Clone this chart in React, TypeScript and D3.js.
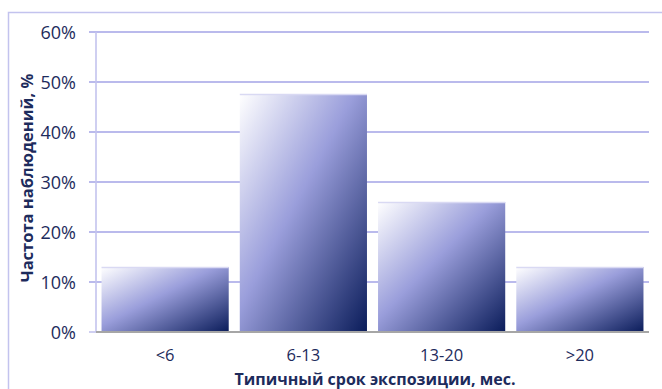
import * as d3 from 'd3';
import { useEffect, useRef } from 'react';

const categories = ['<6', '6-13', '13-20', '>20'];
const shares = [0.13, 0.476, 0.26, 0.13];
const yTicks = [0, 0.1, 0.2, 0.3, 0.4, 0.5, 0.6];

const xTitle = 'Типичный срок экспозиции, мес.';
const yTitle = 'Частота наблюдений, %';

const dims = {
  width: 662,
  height: 389,
  left: 96,
  right: 649,
  top: 32,
  bottom: 332,
};

const textColor = '#1d2b5c';
const font = '"Open Sans", "Noto Sans", sans-serif';

export default function App() {
  const svgRef = useRef(null);

  useEffect(() => {
    const svg = d3.select(svgRef.current);
    svg.selectAll('*').remove();

    const xScale = d3
      .scaleBand()
      .domain(categories)
      .range([dims.left, dims.right])
      .paddingInner(0.08)
      .paddingOuter(0.04);

    const yScale = d3
      .scaleLinear()
      .domain([0, 0.6])
      .range([dims.bottom, dims.top]);

    // gradient for bars
    const grad = svg
      .append('defs')
      .append('linearGradient')
      .attr('id', 'barGrad')
      .attr('x1', 0)
      .attr('y1', 0)
      .attr('x2', 1)
      .attr('y2', 1);
    grad.append('stop').attr('offset', '0%').attr('stop-color', '#ffffff');
    grad.append('stop').attr('offset', '45%').attr('stop-color', '#9a9edb');
    grad.append('stop').attr('offset', '100%').attr('stop-color', '#0a1c5a');

    // outer frame
    svg
      .append('rect')
      .attr('x', 8.5)
      .attr('y', 12.5)
      .attr('width', 700)
      .attr('height', 400)
      .style('fill', 'none')
      .style('stroke', '#c3c3ee')
      .style('stroke-width', 1.5);

    // grid lines + tick marks
    svg
      .append('g')
      .selectAll('line')
      .data(yTicks.slice(1))
      .enter()
      .append('line')
      .attr('x1', 89)
      .attr('x2', dims.right)
      .attr('y1', (d) => yScale(d))
      .attr('y2', (d) => yScale(d))
      .style('stroke', '#a3a3e6')
      .style('stroke-width', 1.6);

    // zero tick
    svg
      .append('line')
      .attr('x1', 89)
      .attr('x2', dims.left)
      .attr('y1', yScale(0))
      .attr('y2', yScale(0))
      .style('stroke', '#c3c3ee')
      .style('stroke-width', 1.6);

    // y axis line
    svg
      .append('line')
      .attr('x1', dims.left)
      .attr('x2', dims.left)
      .attr('y1', dims.top)
      .attr('y2', dims.bottom)
      .style('stroke', '#c3c3ee')
      .style('stroke-width', 1.6);

    // bars
    const bars = svg.append('g');
    bars
      .selectAll('rect')
      .data(shares)
      .enter()
      .append('rect')
      .attr('x', (d, i) => xScale(categories[i]) as number)
      .attr('y', (d) => yScale(d))
      .attr('width', xScale.bandwidth())
      .attr('height', (d) => yScale(0) - yScale(d))
      .style('fill', 'url(#barGrad)');

    bars
      .selectAll('line')
      .data(shares)
      .enter()
      .append('line')
      .attr('x1', (d, i) => xScale(categories[i]) as number)
      .attr('x2', (d, i) => (xScale(categories[i]) as number) + xScale.bandwidth())
      .attr('y1', (d) => yScale(d) + 0.5)
      .attr('y2', (d) => yScale(d) + 0.5)
      .style('stroke', '#d9d9f3')
      .style('stroke-width', 1.5);

    // x axis line
    svg
      .append('line')
      .attr('x1', dims.left)
      .attr('x2', dims.right)
      .attr('y1', dims.bottom)
      .attr('y2', dims.bottom)
      .style('stroke', '#a6a6a6')
      .style('stroke-width', 2);

    // y tick labels
    svg
      .append('g')
      .selectAll('text')
      .data(yTicks)
      .enter()
      .append('text')
      .attr('x', 76)
      .attr('y', (d) => yScale(d) + 6.5)
      .attr('text-anchor', 'end')
      .style('font-family', font)
      .style('font-size', '18px')
      .style('fill', textColor)
      .text((d) => d3.format('.0%')(d));

    // x tick labels
    svg
      .append('g')
      .selectAll('text')
      .data(categories)
      .enter()
      .append('text')
      .attr('x', (d) => (xScale(d) as number) + xScale.bandwidth() / 2)
      .attr('y', 361)
      .attr('text-anchor', 'middle')
      .style('font-family', font)
      .style('font-size', '16.5px')
      .style('fill', textColor)
      .text((d) => d);

    // x title
    svg
      .append('text')
      .attr('x', 375)
      .attr('y', 385)
      .attr('text-anchor', 'middle')
      .style('font-family', font)
      .style('font-size', '16px')
      .style('font-weight', 'bold')
      .style('fill', textColor)
      .text(xTitle);

    // y title
    svg
      .append('text')
      .attr('text-anchor', 'middle')
      .attr('transform', 'translate(33,178)rotate(-90)')
      .style('font-family', font)
      .style('font-size', '16.5px')
      .style('font-weight', 'bold')
      .style('fill', textColor)
      .text(yTitle);
  }, []);

  return (
    <div>
      <svg
        ref={svgRef}
        width={dims.width}
        height={dims.height}
        style={{ position: 'absolute', left: 0, top: 0, background: '#ffffff' }}
      ></svg>
    </div>
  );
}
